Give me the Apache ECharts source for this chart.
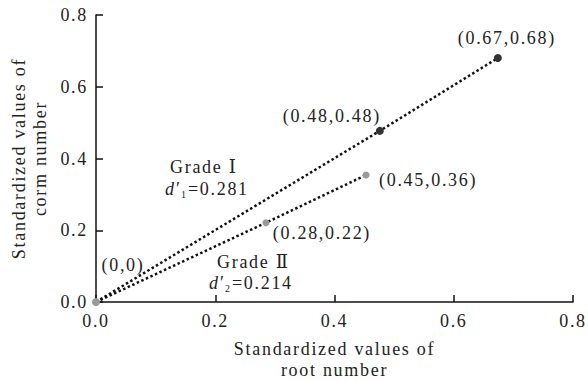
<!DOCTYPE html>
<html><head><meta charset="utf-8">
<script src="https://cdn.jsdelivr.net/npm/echarts@6/dist/echarts.min.js"></script>
<style>html,body{margin:0;padding:0;background:#fff}#c{width:588px;height:381px}#c text{letter-spacing:1.7px}</style>
</head><body><div id="c"></div>
<script>
const xTicks = [0, 0.2, 0.4, 0.6, 0.8];
const yTicks = [0, 0.2, 0.4, 0.6, 0.8];
const gradeIX = [0, 0.476, 0.674];
const gradeIY = [0, 0.477, 0.68];
const gradeILabels = ['(0,0)', '(0.48,0.48)', '(0.67,0.68)'];
const gradeIIX = [0, 0.285, 0.453];
const gradeIIY = [0, 0.221, 0.354];
const gradeIILabels = ['', '(0.28,0.22)', '(0.45,0.36)'];
const xName = 'Standardized values of\nroot number';
const yName = 'Standardized values of\ncorm number';

const FONT = '"Liberation Serif", "DejaVu Serif", "Times New Roman", serif';
const FS = 18;
const chart = echarts.init(document.getElementById('c'), null, { renderer: 'svg' });

const lblOffsets1 = [[27, -37], [-48, -15], [9, -20]];
const lblOffsets2 = [[0, 0], [56, 10], [62, 5]];

function mk(xs, ys, labels, offs, colors, size) {
  return xs.map((x, i) => ({
    value: [x, ys[i]],
    symbolSize: size,
    itemStyle: { color: colors[i] },
    label: {
      show: labels[i] !== '',
      formatter: labels[i],
      position: 'inside',
      offset: offs[i],
      fontFamily: FONT, fontSize: FS, color: '#222'
    }
  }));
}

const axisCommon = {
  min: 0, max: 0.8, interval: 0.2,
  axisLine: { show: true, lineStyle: { color: '#111', width: 1.5 } },
  axisTick: { show: true, inside: true, length: 7, lineStyle: { color: '#111', width: 1.5 } },
  splitLine: { show: false },
  axisLabel: { fontFamily: FONT, fontSize: FS, color: '#222', formatter: v => v.toFixed(1) },
  nameTextStyle: { fontFamily: FONT, fontSize: FS, color: '#222', lineHeight: 21 },
  nameLocation: 'middle'
};

function dText(sub, val) {
  return {
    text: '{i|d}{p|′}{s|' + sub + '}{n|=' + val + '}',
    rich: {
      i: { fontFamily: FONT, fontSize: FS, fontStyle: 'italic', fill: '#222', padding: [0, 2, 0, 0] },
      p: { fontFamily: FONT, fontSize: FS, fill: '#222', padding: [0, 1, 0, 0] },
      s: { fontFamily: FONT, fontSize: 10, fill: '#222', padding: [10, 2, 0, 0] },
      n: { fontFamily: FONT, fontSize: FS, fill: '#222' }
    }
  };
}

chart.setOption({
  animation: false,
  grid: { left: 96, right: 15, top: 15, bottom: 79, outerBoundsMode: 'none', containLabel: false },
  xAxis: Object.assign({}, axisCommon, { type: 'value', name: xName, nameGap: 36,
    axisLabel: Object.assign({}, axisCommon.axisLabel, { margin: 10 }) }),
  yAxis: Object.assign({}, axisCommon, { type: 'value', name: yName, nameGap: 46,
    axisLabel: Object.assign({}, axisCommon.axisLabel, { margin: 8 }) }),
  series: [
    {
      type: 'line', z: 3,
      data: mk(gradeIX, gradeIY, gradeILabels, lblOffsets1, ['#999', '#333', '#333'], 8),
      symbol: 'circle',
      lineStyle: { color: '#111', width: 2.5, type: [2.5, 2.5] }
    },
    {
      type: 'line', z: 2,
      data: mk(gradeIIX, gradeIIY, gradeIILabels, lblOffsets2, ['#999', '#999', '#999'], 7),
      symbol: 'circle',
      lineStyle: { color: '#111', width: 2.5, type: [2.5, 2.5] }
    }
  ],
  graphic: [
    { type: 'text', left: 170, top: 158, style: { text: 'Grade Ⅰ', font: FS + 'px ' + FONT, fill: '#222' } },
    { type: 'text', left: 165, top: 180, style: dText('1', '0.281') },
    { type: 'text', left: 217, top: 253, style: { text: 'Grade Ⅱ', font: FS + 'px ' + FONT, fill: '#222' } },
    { type: 'text', left: 209, top: 274, style: dText('2', '0.214') }
  ]
});
</script></body></html>
